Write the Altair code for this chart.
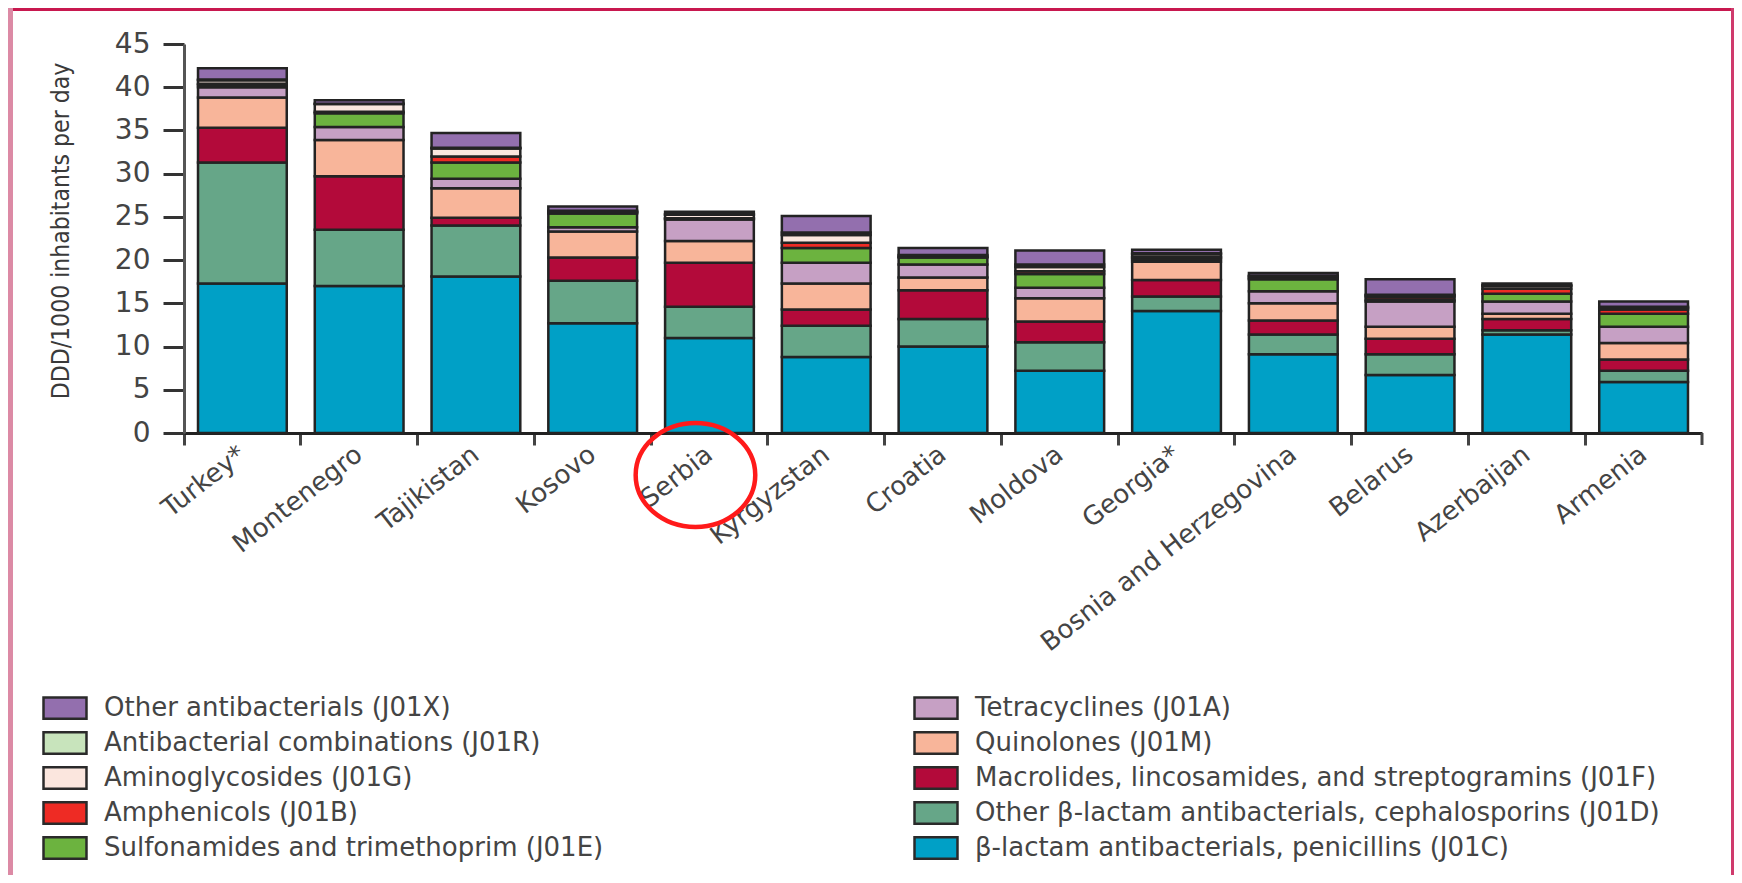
import altair as alt
import pandas as pd

countries = ["Turkey*", "Montenegro", "Tajikistan", "Kosovo", "Serbia", "Kyrgyzstan",
             "Croatia", "Moldova", "Georgia*", "Bosnia and Herzegovina", "Belarus",
             "Azerbaijan", "Armenia"]

penicillins = [17.3, 17.0, 18.1, 12.7, 11.0, 8.8, 10.0, 7.2, 14.1, 9.1, 6.7, 11.4, 5.9]
cephalosporins = [14.0, 6.5, 5.9, 4.9, 3.6, 3.6, 3.2, 3.3, 1.7, 2.3, 2.4, 0.5, 1.3]
macrolides = [4.0, 6.2, 0.9, 2.7, 5.1, 1.9, 3.3, 2.4, 1.9, 1.6, 1.8, 1.3, 1.3]
quinolones = [3.5, 4.2, 3.4, 3.0, 2.5, 3.0, 1.5, 2.7, 2.1, 2.0, 1.4, 0.6, 1.9]
tetracyclines = [1.2, 1.5, 1.1, 0.5, 2.5, 2.4, 1.5, 1.2, 0.3, 1.4, 2.9, 1.4, 1.9]
sulfonamides = [0.3, 1.6, 1.9, 1.6, 0.1, 1.7, 0.8, 1.6, 0.2, 1.4, 0.2, 0.9, 1.5]
amphenicols = [0.1, 0.15, 0.7, 0.1, 0.05, 0.6, 0.1, 0.3, 0.1, 0.1, 0.3, 0.6, 0.5]
aminoglycosides = [0.4, 0.9, 0.9, 0.1, 0.4, 0.9, 0.2, 0.5, 0.3, 0.2, 0.2, 0.3, 0.2]
combinations = [0.1, 0.05, 0.1, 0.1, 0.05, 0.3, 0.0, 0.3, 0.1, 0.1, 0.1, 0.1, 0.1]
other = [1.3, 0.4, 1.7, 0.5, 0.3, 1.9, 0.8, 1.6, 0.4, 0.3, 1.8, 0.2, 0.6]

# stacking order, bottom to top
classes = [
    "β-lactam antibacterials, penicillins (J01C)",
    "Other β-lactam antibacterials, cephalosporins (J01D)",
    "Macrolides, lincosamides, and streptogramins (J01F)",
    "Quinolones (J01M)",
    "Tetracyclines (J01A)",
    "Sulfonamides and trimethoprim (J01E)",
    "Amphenicols (J01B)",
    "Aminoglycosides (J01G)",
    "Antibacterial combinations (J01R)",
    "Other antibacterials (J01X)",
]
series = [penicillins, cephalosporins, macrolides, quinolones, tetracyclines,
          sulfonamides, amphenicols, aminoglycosides, combinations, other]
class_colors = ["#00a0c6", "#66a688", "#b30a3a", "#f8b59a", "#c6a0c4",
                "#6cb33f", "#ee2b24", "#fbe6de", "#c8e4bc", "#936fae"]

# legend order: left column top to bottom, then right column
legend_order = [9, 8, 7, 6, 5, 4, 3, 2, 1, 0]
legend_domain = [classes[i] for i in legend_order]
legend_range = [class_colors[i] for i in legend_order]

rows = []
for ci, (name, vals) in enumerate(zip(classes, series)):
    for country, v in zip(countries, vals):
        rows.append({"country": country, "cls": name, "value": v, "idx": ci})
df = pd.DataFrame(rows)

W, H = 1518, 389
text_color = "#444444"
font = "DejaVu Sans"
title_font = "DejaVu Sans Condensed, DejaVu Sans"

rect_path = "M-2,-1H2V1H-2Z"
ellipse_path = "M-1.15,0A1.15,1 0 1,0 1.15,0A1.15,1 0 1,0 -1.15,0Z"

bars = alt.Chart(df).mark_bar(
    width=alt.RelativeBandSize(0.76), stroke="#232323", strokeWidth=2.5
).encode(
    x=alt.X("country:N", sort=countries,
            scale=alt.Scale(paddingInner=0, paddingOuter=0),
            axis=alt.Axis(title=None, bandPosition=0,
                          labelAngle=-38, labelAlign="right", labelBaseline="middle",
                          labelPadding=6, tickSize=12, tickWidth=3, tickColor="#444444",
                          domainColor="#222222", domainWidth=3, labelLimit=1000,
                          labelFont=font, labelFontSize=26, labelColor=text_color)),
    y=alt.Y("value:Q", stack="zero",
            scale=alt.Scale(domain=[0, 45], nice=False),
            axis=alt.Axis(title="DDD/1000 inhabitants per day",
                          values=[0, 5, 10, 15, 20, 25, 30, 35, 40, 45],
                          tickSize=21, tickWidth=3, tickColor="#333333",
                          domainColor="#555555", domainWidth=3, grid=False,
                          labelFont=font, labelFontSize=28, labelColor=text_color,
                          labelPadding=13,
                          titleFont=title_font, titleFontSize=24.5, titleFontWeight="normal",
                          titleColor="#3a3a3a", titleX=-116, titleY=H / 2 - 8,
                          titleAngle=270, titleAlign="center",
                          titleBaseline="alphabetic")),
    color=alt.Color("cls:N",
                    scale=alt.Scale(domain=legend_domain, range=legend_range),
                    legend=alt.Legend(orient="none", legendX=-132, legendY=651,
                                      columns=2, columnPadding=305, rowPadding=3,
                                      title=None, symbolType=rect_path, symbolSize=462,
                                      symbolStrokeColor="#2a2a2a", symbolStrokeWidth=2.5,
                                      symbolOpacity=1,
                                      labelFont=font, labelFontSize=26,
                                      labelColor=text_color, labelOffset=26,
                                      labelLimit=1000)),
    order=alt.Order("idx:Q", sort="ascending"),
)

end_tick = alt.Chart(alt.Data(values=[{"k": 1}])).mark_rule(
    color="#444444", strokeWidth=3
).encode(x=alt.value(W), y=alt.value(H), y2=alt.value(H + 12))

circle = alt.Chart(alt.Data(values=[{"country": "Serbia"}])).mark_point(
    shape=ellipse_path, size=10816, filled=False, stroke="#ff1a1a",
    strokeWidth=4.5, opacity=1, xOffset=-14
).encode(x=alt.X("country:N", sort=countries), y=alt.value(H + 42))

frame_top = alt.Chart(alt.Data(values=[{"k": 1}])).mark_rule(
    color="#c8184f", strokeWidth=3
).encode(x=alt.value(-176), x2=alt.value(W + 32), y=alt.value(-34.5))
frame_left = alt.Chart(alt.Data(values=[{"k": 1}])).mark_rule(
    color="#dc8aa5", strokeWidth=5
).encode(x=alt.value(-173.5), y=alt.value(-36), y2=alt.value(H + 442))
frame_right = alt.Chart(alt.Data(values=[{"k": 1}])).mark_rule(
    color="#cf3a6c", strokeWidth=3
).encode(x=alt.value(W + 30.5), y=alt.value(-36), y2=alt.value(H + 442))

chart = alt.layer(bars, end_tick, circle, frame_top, frame_left, frame_right).properties(
    width=W, height=H,
    autosize=alt.AutoSizeParams(type="none"),
    padding={"left": 176, "top": 36, "right": 32, "bottom": 442},
    background="white",
).configure_view(stroke=None)

chart.save("out.html", embed_options={"renderer": "svg", "actions": False})
